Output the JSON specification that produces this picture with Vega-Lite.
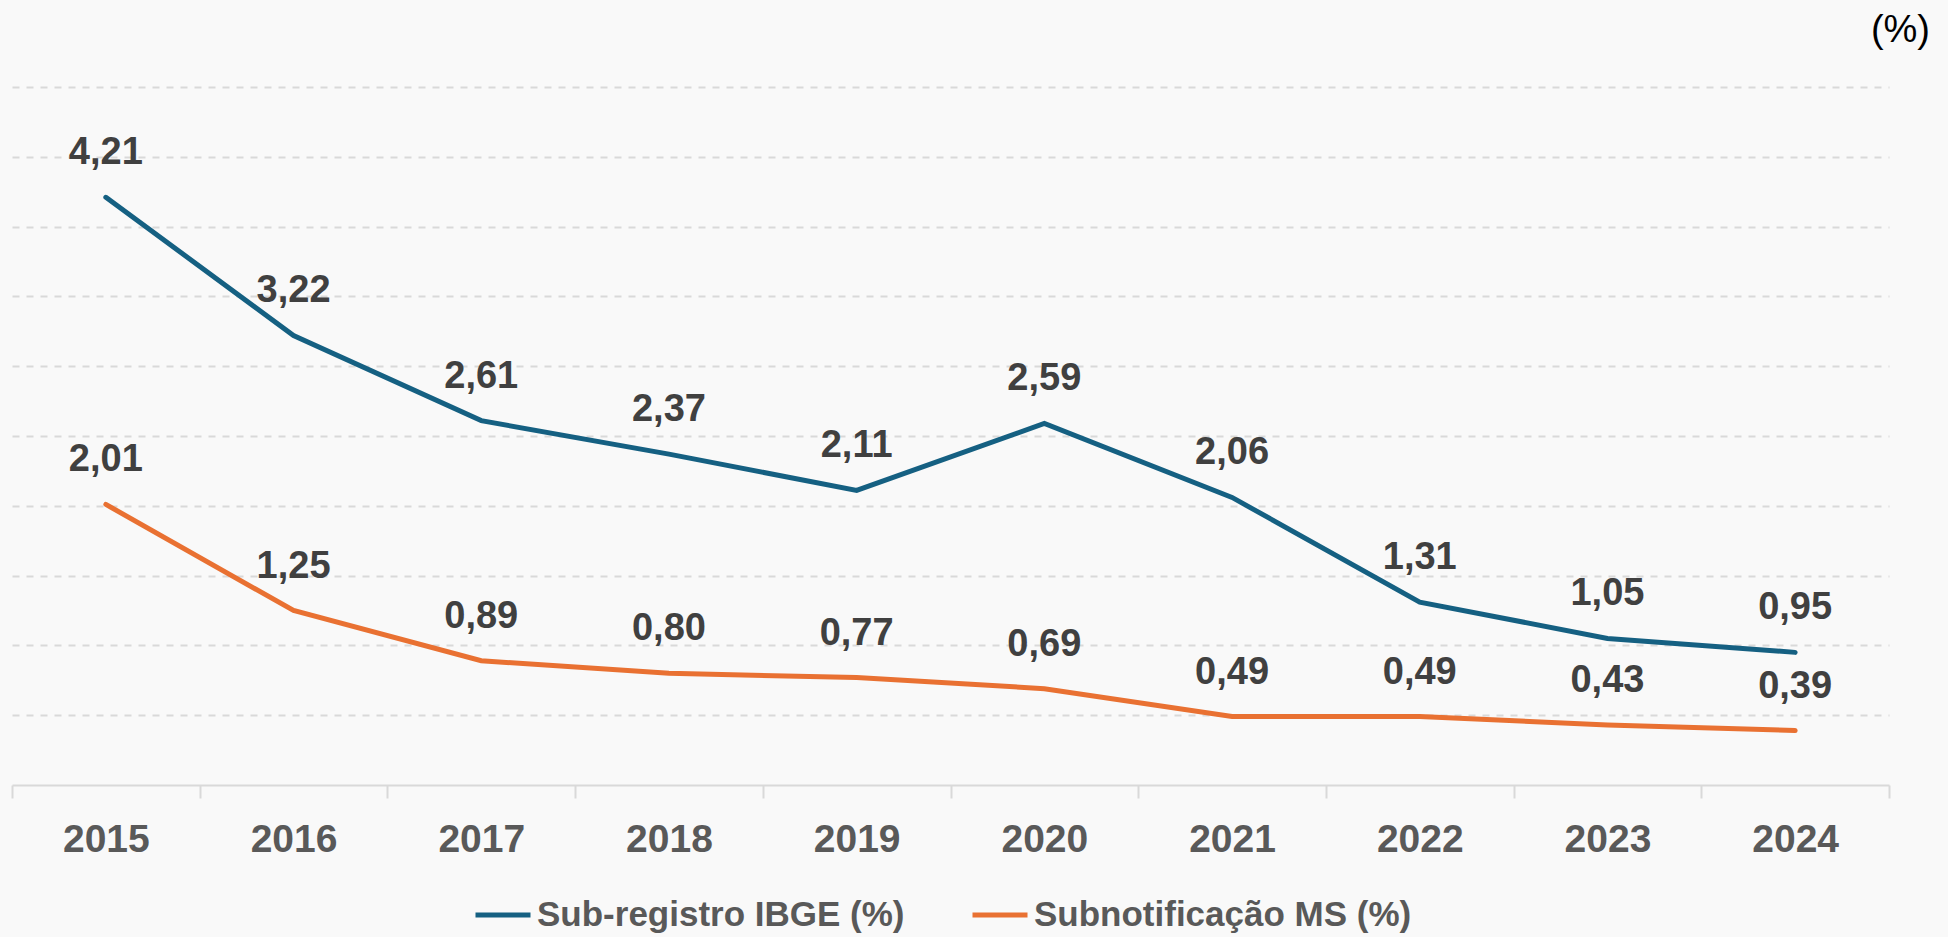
{
  "$schema": "https://vega.github.io/schema/vega-lite/v6.json",
  "width": 1877,
  "height": 698,
  "autosize": {"type": "none"},
  "padding": {"left": 12, "top": 87, "right": 59, "bottom": 152},
  "background": "#F9F9F9",
  "config": {
    "locale": {"number": {"decimal": ",", "thousands": ".", "grouping": [3], "currency": ["R$", ""]}},
    "view": {"stroke": null},
    "font": "Liberation Sans"
  },
  "title": {
    "text": "(%)",
    "anchor": "end",
    "frame": "group",
    "orient": "top",
    "fontSize": 38,
    "fontWeight": "normal",
    "color": "#000000",
    "font": "Liberation Sans",
    "baseline": "alphabetic",
    "offset": 7,
    "dx": 41
  },
  "data": {
    "values": [
      {"ano": "2015", "serie": "Sub-registro IBGE (%)", "valor": 4.21},
      {"ano": "2016", "serie": "Sub-registro IBGE (%)", "valor": 3.22},
      {"ano": "2017", "serie": "Sub-registro IBGE (%)", "valor": 2.61},
      {"ano": "2018", "serie": "Sub-registro IBGE (%)", "valor": 2.37},
      {"ano": "2019", "serie": "Sub-registro IBGE (%)", "valor": 2.11},
      {"ano": "2020", "serie": "Sub-registro IBGE (%)", "valor": 2.59},
      {"ano": "2021", "serie": "Sub-registro IBGE (%)", "valor": 2.06},
      {"ano": "2022", "serie": "Sub-registro IBGE (%)", "valor": 1.31},
      {"ano": "2023", "serie": "Sub-registro IBGE (%)", "valor": 1.05},
      {"ano": "2024", "serie": "Sub-registro IBGE (%)", "valor": 0.95},
      {"ano": "2015", "serie": "Subnotificação MS (%)", "valor": 2.01},
      {"ano": "2016", "serie": "Subnotificação MS (%)", "valor": 1.25},
      {"ano": "2017", "serie": "Subnotificação MS (%)", "valor": 0.89},
      {"ano": "2018", "serie": "Subnotificação MS (%)", "valor": 0.80},
      {"ano": "2019", "serie": "Subnotificação MS (%)", "valor": 0.77},
      {"ano": "2020", "serie": "Subnotificação MS (%)", "valor": 0.69},
      {"ano": "2021", "serie": "Subnotificação MS (%)", "valor": 0.49},
      {"ano": "2022", "serie": "Subnotificação MS (%)", "valor": 0.49},
      {"ano": "2023", "serie": "Subnotificação MS (%)", "valor": 0.43},
      {"ano": "2024", "serie": "Subnotificação MS (%)", "valor": 0.39}
    ]
  },
  "encoding": {
    "x": {
      "field": "ano",
      "type": "ordinal",
      "bandPosition": 0.5,
      "scale": {"type": "band", "paddingInner": 0, "paddingOuter": 0},
      "axis": {
        "title": null,
        "tickBand": "extent",
        "labelAngle": 0,
        "labelFont": "Liberation Sans",
        "labelFontSize": 39,
        "labelFontWeight": "bold",
        "labelColor": "#595959",
        "labelPadding": 22,
        "domainColor": "#D9D9D9",
        "domainWidth": 2,
        "tickColor": "#D9D9D9",
        "tickWidth": 2,
        "tickSize": 13,
        "grid": false
      }
    },
    "y": {
      "field": "valor",
      "type": "quantitative",
      "scale": {"domain": [0, 5], "nice": false},
      "axis": {
        "title": null,
        "values": [0.5, 1, 1.5, 2, 2.5, 3, 3.5, 4, 4.5, 5],
        "labels": false,
        "ticks": false,
        "domain": false,
        "grid": true,
        "gridColor": "#D9D9D9",
        "gridWidth": 2,
        "gridDash": [7, 7]
      }
    }
  },
  "layer": [
    {
      "mark": {"type": "line", "strokeWidth": 5, "strokeCap": "round"},
      "encoding": {
        "color": {
          "field": "serie",
          "type": "nominal",
          "scale": {
            "domain": ["Sub-registro IBGE (%)", "Subnotificação MS (%)"],
            "range": ["#156082", "#E97132"]
          },
          "legend": {
            "title": null,
            "orient": "none",
            "legendX": 461,
            "legendY": 798,
            "direction": "horizontal",
            "symbolType": "stroke",
            "symbolSize": 3025,
            "symbolStrokeWidth": 5,
            "labelFont": "Liberation Sans",
            "labelFontSize": 35,
            "labelFontWeight": "bold",
            "labelColor": "#595959",
            "labelLimit": 600,
            "labelOffset": 4,
            "columnPadding": 57
          }
        }
      }
    },
    {
      "mark": {
        "type": "text",
        "dy": -44,
        "baseline": "middle",
        "align": "center",
        "font": "Liberation Sans",
        "fontSize": 38,
        "fontWeight": "bold",
        "color": "#404040"
      },
      "encoding": {
        "text": {"field": "valor", "type": "quantitative", "format": ".2f"},
        "detail": {"field": "serie"}
      }
    }
  ]
}
